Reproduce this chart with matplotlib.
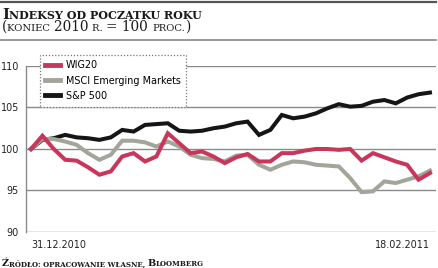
import os
import matplotlib
matplotlib.use("Agg")
from matplotlib import pyplot as plt
from matplotlib import font_manager
from matplotlib.font_manager import FontProperties
from matplotlib.lines import Line2D
from matplotlib.transforms import IdentityTransform

# index values, koniec 2010 = 100, one point per weekday 31.12.2010 - 18.02.2011
wig20 = [100, 101.6, 100.0, 98.7, 98.6, 97.8, 96.9, 97.3, 99.1, 99.5, 98.5, 99.1,
         101.9, 100.7, 99.5, 99.7, 99.1, 98.3, 99.0, 99.4, 98.5, 98.5, 99.5, 99.5,
         99.8, 100.0, 100.0, 99.9, 100.0, 98.6, 99.5, 99.0, 98.5, 98.1, 96.3, 97.1]
msci = [100, 101.2, 101.2, 100.9, 100.5, 99.5, 98.7, 99.3, 101.0, 101.0, 100.8, 100.3,
        100.9, 100.3, 99.3, 98.9, 98.8, 98.5, 99.2, 99.3, 98.1, 97.5, 98.1, 98.5,
        98.4, 98.1, 98.0, 97.9, 96.5, 94.8, 94.9, 96.1, 95.9, 96.3, 96.7, 97.4]
sp500 = [100, 101.1, 101.3, 101.7, 101.4, 101.3, 101.1, 101.4, 102.3, 102.1, 102.9, 103.0,
         103.1, 102.2, 102.1, 102.2, 102.5, 102.7, 103.1, 103.3, 101.7, 102.3, 104.1, 103.7,
         103.9, 104.3, 104.9, 105.4, 105.1, 105.2, 105.7, 105.9, 105.5, 106.2, 106.6, 106.8]

series_names = ["WIG20", "MSCI Emerging Markets", "S&P 500"]
series_colors = ["#c8375b", "#a2a59a", "#151515"]
y_ticks = [90, 95, 100, 105, 110]
x_labels = ["31.12.2010", "18.02.2011"]

W, H = 439, 268
fig = plt.figure(figsize=(W / 100, H / 100), dpi=100)
renderer = fig.canvas.get_renderer()

# the original uses a condensed sans; take one if there is one
narrow_file = None
for f in font_manager.fontManager.ttflist:
    b = os.path.basename(f.fname).lower()
    if ("narrow" in b or "condensed" in b) and "sans" in b:
        if any(k in b for k in ("bold", "italic", "oblique", "light", "mono", "black", "medium")):
            continue
        narrow_file = f.fname
        break
if narrow_file:
    lab = FontProperties(fname=narrow_file, size=9)
else:
    lab = FontProperties(family="Liberation Sans", size=9)

# fit the label size so the legend's longest entry is ~115 px wide
probe = fig.text(0, 0, series_names[1], fontproperties=lab)
wpx = probe.get_window_extent(renderer).width
probe.remove()
lab.set_size(min(9.5, 9 * 115 / wpx))

serif = ["DejaVu Serif"]

ax = fig.add_axes([26 / W, (H - 232) / H, 410 / W, (232 - 66) / H])
x = list(range(len(wig20)))
ax.plot(x, sp500, color=series_colors[2], lw=2.9, solid_joinstyle="miter", zorder=3)
ax.plot(x, msci, color=series_colors[1], lw=2.9, solid_joinstyle="miter", zorder=4)
ax.plot(x, wig20, color=series_colors[0], lw=2.9, solid_joinstyle="miter", zorder=5)

ax.set_ylim(90, 110)
ax.set_xlim(-0.44, 35.53)
ax.set_yticks(y_ticks)
ax.set_yticklabels([str(t) for t in y_ticks], fontproperties=lab, color="#222")
ax.yaxis.grid(True, color="#8a8a8a", lw=1.0, zorder=1)
ax.tick_params(axis="y", length=0, pad=5)
ax.set_xticks([x[0], x[-1]])
ax.set_xticklabels(x_labels, fontproperties=lab, color="#222")
ax.tick_params(axis="x", length=0, pad=6)
xl = ax.get_xticklabels()
xl[0].set_ha("left")
xl[-1].set_ha("right")
for s in ["top", "right", "bottom"]:
    ax.spines[s].set_visible(False)
ax.spines["left"].set_color("#8a8a8a")
ax.spines["left"].set_linewidth(1.0)

handles = [Line2D([], [], color=c, lw=3.5) for c in series_colors]
leg = fig.legend(handles, series_names, loc="upper left",
                 bbox_to_anchor=(40 / W, 1 - 55 / H), prop=lab,
                 handlelength=1.4, handletextpad=0.5, labelspacing=0.5,
                 borderpad=0.5, borderaxespad=0, fancybox=False, framealpha=1)
leg.get_frame().set_edgecolor("#777")
leg.get_frame().set_linestyle((0, (1, 1.5)))
leg.get_frame().set_linewidth(0.9)

# top rules
fig.add_artist(Line2D([0, 436 / W], [1 - 1.5 / H] * 2, color="#555", lw=1.6))
fig.add_artist(Line2D([0, 436 / W], [1 - 40 / H] * 2, color="#888", lw=1.2))


def small_caps(x0, y_top, parts, weight):
    # draw runs one after another on a shared baseline, pixel coords
    xpos = x0
    yb = H - y_top
    for txt, size in parts:
        t = fig.text(xpos, yb, txt, transform=IdentityTransform(), fontsize=size,
                     family=serif, weight=weight, va="baseline", ha="left", color="#1a1a1a")
        xpos = t.get_window_extent(renderer).x1


small_caps(2, 19, [("I", 10.6), ("NDEKSY OD POCZĄTKU ROKU", 8.0)], "bold")
small_caps(2, 31, [("(", 9.8), ("KONIEC ", 7.2), ("2010 ", 9.8), ("R. ", 7.2),
                   ("= 100 ", 9.8), ("PROC.", 7.2), (")", 9.8)], "normal")
small_caps(2, 266.5, [("Ź", 7.0), ("RÓDŁO: OPRACOWANIE WŁASNE, ", 5.0), ("B", 7.0),
                      ("LOOMBERG", 5.0)], "bold")

fig.savefig("out.png", dpi=100)
